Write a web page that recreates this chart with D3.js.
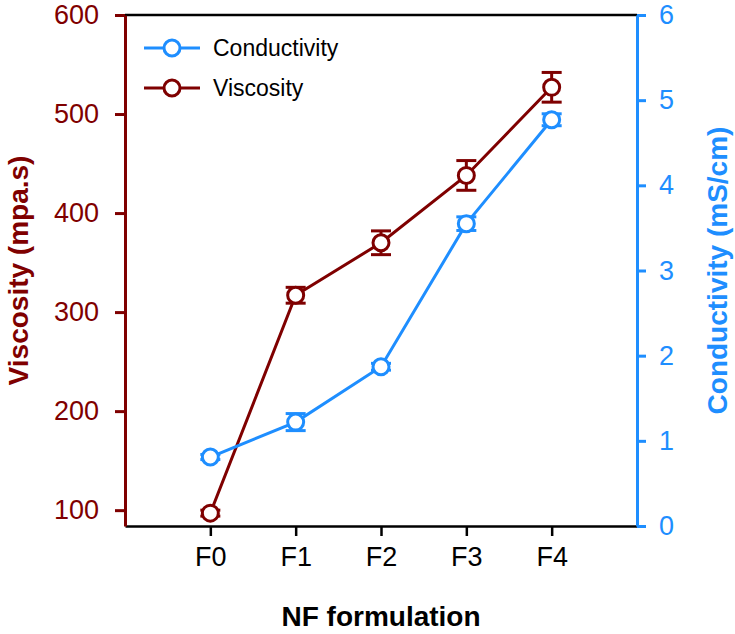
<!DOCTYPE html>
<html><head><meta charset="utf-8">
<script src="https://cdn.jsdelivr.net/npm/d3@7"></script>
<style>
body{margin:0;background:#fff;}
text{font-family:"Liberation Sans",Arial,sans-serif;}
</style></head>
<body><svg id="chart" width="735" height="634"></svg>
<script>
const categories = ["F0","F1","F2","F3","F4"];
const viscosity = [97, 317, 370, 438, 527];
const viscosityErr = [3, 8, 12, 15, 15];
const conductivity = [0.81, 1.22, 1.87, 3.55, 4.77];
const conductivityErr = [0.03, 0.1, 0.04, 0.08, 0.07];
const leftTicks = [100, 200, 300, 400, 500, 600];
const rightTicks = [0, 1, 2, 3, 4, 5, 6];

const maroon = "#7f0000", blue = "#1e8eff";
const svg = d3.select("#chart");
const L = 125, R = 637, T = 15, B = 526;

const x = d3.scaleLinear().domain([-1, 5]).range([L, R]);
const yL = d3.scaleLinear().domain([84, 600]).range([B, T]);
const yR = d3.scaleLinear().domain([0, 6]).range([B, T]);

// frame lines
svg.append("line").attr("x1", L).attr("x2", R).attr("y1", T).attr("y2", T).attr("stroke", "#000").attr("stroke-width", 2.5);

// x axis
const xAxis = svg.append("g").attr("transform", `translate(0,${B})`)
  .call(d3.axisBottom(x).tickValues(d3.range(categories.length)).tickFormat(i => categories[i]).tickSize(10).tickSizeOuter(0));
xAxis.select(".domain").attr("stroke", "#000").attr("stroke-width", 2.5);
xAxis.selectAll(".tick line").attr("stroke", "#000").attr("stroke-width", 2.5);
xAxis.selectAll(".tick text").attr("font-size", 27).attr("fill", "#000").attr("y", 21).attr("dy", "0.71em");

// left axis
const lAxis = svg.append("g").attr("transform", `translate(${L},0)`)
  .call(d3.axisLeft(yL).tickValues(leftTicks).tickFormat(d3.format("d")).tickSize(10).tickSizeOuter(0).tickPadding(16));
lAxis.select(".domain").attr("stroke", maroon).attr("stroke-width", 3);
lAxis.selectAll(".tick line").attr("stroke", maroon).attr("stroke-width", 3);
lAxis.selectAll(".tick text").attr("font-size", 27).attr("fill", maroon);

// right axis
const rAxis = svg.append("g").attr("transform", `translate(${R},0)`)
  .call(d3.axisRight(yR).tickValues(rightTicks).tickFormat(d3.format("d")).tickSize(9).tickSizeOuter(0).tickPadding(13));
rAxis.select(".domain").attr("stroke", blue).attr("stroke-width", 3);
rAxis.selectAll(".tick line").attr("stroke", blue).attr("stroke-width", 3);
rAxis.selectAll(".tick text").attr("font-size", 27).attr("fill", blue);

// titles
svg.append("text").attr("transform", `translate(28,${(T + B) / 2}) rotate(-90)`).attr("text-anchor", "middle")
  .attr("font-size", 28).attr("font-weight", "bold").attr("fill", maroon).text("Viscosity (mpa.s)");
svg.append("text").attr("transform", `translate(727,${(T + B) / 2}) rotate(-90)`).attr("text-anchor", "middle")
  .attr("font-size", 28).attr("font-weight", "bold").attr("fill", blue).text("Conductivity (mS/cm)");
svg.append("text").attr("x", (L + R) / 2).attr("y", 626).attr("text-anchor", "middle")
  .attr("font-size", 28).attr("font-weight", "bold").attr("fill", "#000").text("NF formulation");

function drawSeries(vals, errs, y, color) {
  const g = svg.append("g");
  const line = d3.line().x((d, i) => x(i)).y(d => y(d));
  g.append("path").datum(vals).attr("d", line).attr("fill", "none").attr("stroke", color).attr("stroke-width", 3);
  vals.forEach((v, i) => {
    const cx = x(i), y1 = y(v + errs[i]), y2 = y(v - errs[i]);
    g.append("line").attr("x1", cx).attr("x2", cx).attr("y1", y1).attr("y2", y2).attr("stroke", color).attr("stroke-width", 3);
    [y1, y2].forEach(yy => g.append("line").attr("x1", cx - 10).attr("x2", cx + 10).attr("y1", yy).attr("y2", yy).attr("stroke", color).attr("stroke-width", 3));
  });
  g.selectAll("circle").data(vals).join("circle").attr("cx", (d, i) => x(i)).attr("cy", d => y(d)).attr("r", 8)
    .attr("fill", "#fff").attr("stroke", color).attr("stroke-width", 3);
}
drawSeries(viscosity, viscosityErr, yL, maroon);
drawSeries(conductivity, conductivityErr, yR, blue);

// legend
const legend = [["Conductivity", blue, 48], ["Viscosity", maroon, 88]];
legend.forEach(([name, c, yy]) => {
  svg.append("line").attr("x1", 144).attr("x2", 200).attr("y1", yy).attr("y2", yy).attr("stroke", c).attr("stroke-width", 3);
  svg.append("circle").attr("cx", 172).attr("cy", yy).attr("r", 8).attr("fill", "#fff").attr("stroke", c).attr("stroke-width", 3);
  svg.append("text").attr("x", 213).attr("y", yy).attr("dy", "0.35em").attr("font-size", 23).attr("fill", "#000").text(name);
});
</script></body></html>
